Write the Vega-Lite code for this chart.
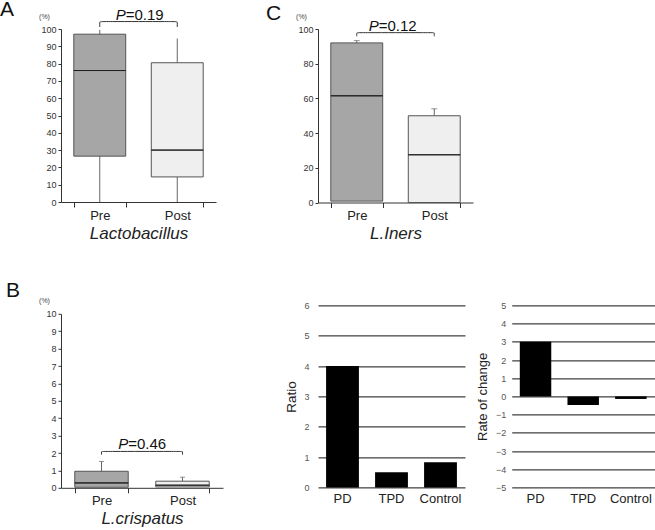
{
  "$schema": "https://vega.github.io/schema/vega-lite/v6.json",
  "padding": {"left": 0, "top": -2, "right": 0, "bottom": 0},
  "background": "white",
  "config": {"font": "Liberation Sans", "view": {"stroke": null}},
  "datasets": {
    "A": [{"g": "Pre", "lo": 0, "q1": 26.5, "med": 76, "q3": 97, "hi": 99.5}, {"g": "Post", "lo": 0, "q1": 14.5, "med": 30, "q3": 80.5, "hi": 94.5}],
    "A_br": [{"g": "Pre", "y": 101.2, "o": 1}, {"g": "Pre", "y": 104.3, "o": 2}, {"g": "Pre", "y": 104.3, "o": 3}, {"g": "Post", "y": 104.3, "o": 4}, {"g": "Post", "y": 104.3, "o": 5}, {"g": "Post", "y": 101.2, "o": 6}],
    "A_p": [{"g": "Pre", "y": 105.4, "p": "P", "r": "=0.19"}],
    "C": [{"g": "Pre", "q1": 0.8, "med": 61.5, "q3": 92, "hi": 93.3}, {"g": "Post", "q1": 0, "med": 27.5, "q3": 50, "hi": 54}],
    "C_br": [{"g": "Pre", "y": 95.8, "o": 1}, {"g": "Pre", "y": 97.9, "o": 2}, {"g": "Pre", "y": 97.9, "o": 3}, {"g": "Post", "y": 97.9, "o": 4}, {"g": "Post", "y": 97.9, "o": 5}, {"g": "Post", "y": 95.8, "o": 6}],
    "C_p": [{"g": "Pre", "y": 98.6, "p": "P", "r": "=0.12"}],
    "B": [{"g": "Pre", "q1": 0.03, "med": 0.28, "q3": 0.95, "hi": 1.51}, {"g": "Post", "q1": 0.05, "med": 0.15, "q3": 0.38, "hi": 0.61}],
    "B_br": [{"g": "Pre", "y": 1.9, "o": 1}, {"g": "Pre", "y": 2.09, "o": 2}, {"g": "Pre", "y": 2.09, "o": 3}, {"g": "Post", "y": 2.09, "o": 4}, {"g": "Post", "y": 2.09, "o": 5}, {"g": "Post", "y": 1.9, "o": 6}],
    "B_p": [{"g": "Pre", "y": 2.25, "p": "P", "r": "=0.46"}],
    "R": [{"g": "PD", "v": 4.0}, {"g": "TPD", "v": 0.5}, {"g": "Control", "v": 0.83}],
    "RC": [{"g": "PD", "v": 3.0}, {"g": "TPD", "v": -0.47}, {"g": "Control", "v": -0.14}]
  },
  "spacing": 43,
  "hconcat": [
    {
      "vconcat": [
        {
          "width": 155, "height": 173,
          "title": {"text": "A", "anchor": "start", "frame": "group", "dx": -61, "fontSize": 21, "fontWeight": "normal", "color": "#111", "offset": -12.2},
          "layer": [
            {"data": {"name": "A"}, "mark": {"type": "rule", "color": "#666"},
             "encoding": {
               "x": {"field": "g", "type": "nominal", "sort": ["Pre", "Post"], "scale": {"domain": ["Pre", "Post"], "paddingInner": 0.33, "paddingOuter": 0.165},
                     "axis": {"tickBand": "extent", "labelAngle": 0, "labelFontSize": 13, "labelColor": "#222", "tickSize": 5, "labelPadding": 2, "domainColor": "#333", "tickColor": "#333", "title": "Lactobacillus", "titleFontStyle": "italic", "titleFontWeight": "normal", "titleFontSize": 17, "titleColor": "#222", "titlePadding": 3}},
               "y": {"field": "lo", "type": "quantitative", "scale": {"domain": [0, 100]},
                     "axis": {"values": [0, 10, 20, 30, 40, 50, 60, 70, 80, 90, 100], "labelOverlap": false, "grid": false, "labelFontSize": 9, "labelColor": "#333", "tickSize": 3, "labelPadding": 2, "domainColor": "#333", "tickColor": "#333", "title": "(%)", "titleAngle": 0, "titleFontSize": 7, "titleFontWeight": "normal", "titleColor": "#444", "titleX": -17, "titleY": -13, "titleAlign": "center", "titleBaseline": "middle"}},
               "y2": {"field": "hi"}}},
            {"data": {"name": "A"}, "mark": {"type": "bar", "stroke": "#555", "strokeWidth": 1},
             "encoding": {"x": {"field": "g", "type": "nominal", "sort": ["Pre", "Post"]},
               "y": {"field": "q1", "type": "quantitative", "axis": {"values": [0, 10, 20, 30, 40, 50, 60, 70, 80, 90, 100], "labelOverlap": false, "grid": false, "labelFontSize": 9, "labelColor": "#333", "tickSize": 3, "labelPadding": 2, "domainColor": "#333", "tickColor": "#333", "title": "(%)", "titleAngle": 0, "titleFontSize": 7, "titleFontWeight": "normal", "titleColor": "#444", "titleX": -17, "titleY": -13, "titleAlign": "center", "titleBaseline": "middle"}},
               "y2": {"field": "q3"},
               "fill": {"field": "g", "type": "nominal", "scale": {"domain": ["Pre", "Post"], "range": ["#a6a6a6", "#efefef"]}, "legend": null}}},
            {"data": {"name": "A"}, "mark": {"type": "bar", "fillOpacity": 0, "stroke": "#222", "strokeWidth": 1},
             "encoding": {"x": {"field": "g", "type": "nominal", "sort": ["Pre", "Post"]},
               "y": {"field": "med", "type": "quantitative", "axis": {"values": [0, 10, 20, 30, 40, 50, 60, 70, 80, 90, 100], "labelOverlap": false, "grid": false, "labelFontSize": 9, "labelColor": "#333", "tickSize": 3, "labelPadding": 2, "domainColor": "#333", "tickColor": "#333", "title": "(%)", "titleAngle": 0, "titleFontSize": 7, "titleFontWeight": "normal", "titleColor": "#444", "titleX": -17, "titleY": -13, "titleAlign": "center", "titleBaseline": "middle"}},
               "y2": {"field": "med"}}},
            {"data": {"name": "A_br"}, "mark": {"type": "line", "color": "#333", "strokeWidth": 1, "interpolate": "basis", "clip": false},
             "encoding": {"x": {"field": "g", "type": "nominal", "sort": ["Pre", "Post"]},
               "y": {"field": "y", "type": "quantitative", "axis": {"values": [0, 10, 20, 30, 40, 50, 60, 70, 80, 90, 100], "labelOverlap": false, "grid": false, "labelFontSize": 9, "labelColor": "#333", "tickSize": 3, "labelPadding": 2, "domainColor": "#333", "tickColor": "#333", "title": "(%)", "titleAngle": 0, "titleFontSize": 7, "titleFontWeight": "normal", "titleColor": "#444", "titleX": -17, "titleY": -13, "titleAlign": "center", "titleBaseline": "middle"}},
               "order": {"field": "o"}}},
            {"data": {"name": "A_p"}, "mark": {"type": "text", "align": "right", "baseline": "alphabetic", "fontSize": 15, "fontStyle": "italic", "color": "#111", "clip": false},
             "encoding": {"x": {"field": "g", "type": "nominal", "bandPosition": 1},
               "y": {"field": "y", "type": "quantitative", "axis": {"values": [0, 10, 20, 30, 40, 50, 60, 70, 80, 90, 100], "labelOverlap": false, "grid": false, "labelFontSize": 9, "labelColor": "#333", "tickSize": 3, "labelPadding": 2, "domainColor": "#333", "tickColor": "#333", "title": "(%)", "titleAngle": 0, "titleFontSize": 7, "titleFontWeight": "normal", "titleColor": "#444", "titleX": -17, "titleY": -13, "titleAlign": "center", "titleBaseline": "middle"}},
               "text": {"field": "p"}}},
            {"data": {"name": "A_p"}, "mark": {"type": "text", "align": "left", "baseline": "alphabetic", "fontSize": 15, "color": "#111", "clip": false},
             "encoding": {"x": {"field": "g", "type": "nominal", "bandPosition": 1},
               "y": {"field": "y", "type": "quantitative", "axis": {"values": [0, 10, 20, 30, 40, 50, 60, 70, 80, 90, 100], "labelOverlap": false, "grid": false, "labelFontSize": 9, "labelColor": "#333", "tickSize": 3, "labelPadding": 2, "domainColor": "#333", "tickColor": "#333", "title": "(%)", "titleAngle": 0, "titleFontSize": 7, "titleFontWeight": "normal", "titleColor": "#444", "titleX": -17, "titleY": -13, "titleAlign": "center", "titleBaseline": "middle"}},
               "text": {"field": "r"}}}
          ]
        },
        {
          "width": 162, "height": 174,
          "title": {"text": "B", "anchor": "start", "frame": "group", "dx": -55, "fontSize": 21, "fontWeight": "normal", "color": "#111", "offset": -4.2},
          "layer": [
            {"data": {"name": "B"}, "mark": {"type": "rule", "color": "#666"},
             "encoding": {
               "x": {"field": "g", "type": "nominal", "sort": ["Pre", "Post"], "scale": {"domain": ["Pre", "Post"], "paddingInner": 0.34, "paddingOuter": 0.17},
                     "axis": {"tickBand": "extent", "labelAngle": 0, "labelFontSize": 13, "labelColor": "#222", "tickSize": 5, "labelPadding": 2, "domainColor": "#333", "tickColor": "#333", "title": "L.crispatus", "titleFontStyle": "italic", "titleFontWeight": "normal", "titleFontSize": 17, "titleColor": "#222", "titlePadding": 3}},
               "y": {"field": "q3", "type": "quantitative", "scale": {"domain": [0, 10]},
                     "axis": {"values": [0, 1, 2, 3, 4, 5, 6, 7, 8, 9, 10], "labelOverlap": false, "grid": false, "labelFontSize": 9, "labelColor": "#333", "tickSize": 3, "labelPadding": 2, "domainColor": "#333", "tickColor": "#333", "title": "(%)", "titleAngle": 0, "titleFontSize": 7, "titleFontWeight": "normal", "titleColor": "#444", "titleX": -17, "titleY": -13, "titleAlign": "center", "titleBaseline": "middle"}},
               "y2": {"field": "hi"}}},
            {"data": {"name": "B"}, "mark": {"type": "tick", "orient": "horizontal", "color": "#666", "size": 5, "thickness": 1},
             "encoding": {"x": {"field": "g", "type": "nominal", "sort": ["Pre", "Post"]},
               "y": {"field": "hi", "type": "quantitative", "axis": {"values": [0, 1, 2, 3, 4, 5, 6, 7, 8, 9, 10], "labelOverlap": false, "grid": false, "labelFontSize": 9, "labelColor": "#333", "tickSize": 3, "labelPadding": 2, "domainColor": "#333", "tickColor": "#333", "title": "(%)", "titleAngle": 0, "titleFontSize": 7, "titleFontWeight": "normal", "titleColor": "#444", "titleX": -17, "titleY": -13, "titleAlign": "center", "titleBaseline": "middle"}}}},
            {"data": {"name": "B"}, "mark": {"type": "bar", "stroke": "#555", "strokeWidth": 1},
             "encoding": {"x": {"field": "g", "type": "nominal", "sort": ["Pre", "Post"]},
               "y": {"field": "q1", "type": "quantitative", "axis": {"values": [0, 1, 2, 3, 4, 5, 6, 7, 8, 9, 10], "labelOverlap": false, "grid": false, "labelFontSize": 9, "labelColor": "#333", "tickSize": 3, "labelPadding": 2, "domainColor": "#333", "tickColor": "#333", "title": "(%)", "titleAngle": 0, "titleFontSize": 7, "titleFontWeight": "normal", "titleColor": "#444", "titleX": -17, "titleY": -13, "titleAlign": "center", "titleBaseline": "middle"}},
               "y2": {"field": "q3"},
               "fill": {"field": "g", "type": "nominal", "scale": {"domain": ["Pre", "Post"], "range": ["#a6a6a6", "#efefef"]}, "legend": null}}},
            {"data": {"name": "B"}, "mark": {"type": "bar", "fillOpacity": 0, "stroke": "#222", "strokeWidth": 1},
             "encoding": {"x": {"field": "g", "type": "nominal", "sort": ["Pre", "Post"]},
               "y": {"field": "med", "type": "quantitative", "axis": {"values": [0, 1, 2, 3, 4, 5, 6, 7, 8, 9, 10], "labelOverlap": false, "grid": false, "labelFontSize": 9, "labelColor": "#333", "tickSize": 3, "labelPadding": 2, "domainColor": "#333", "tickColor": "#333", "title": "(%)", "titleAngle": 0, "titleFontSize": 7, "titleFontWeight": "normal", "titleColor": "#444", "titleX": -17, "titleY": -13, "titleAlign": "center", "titleBaseline": "middle"}},
               "y2": {"field": "med"}}},
            {"data": {"name": "B_br"}, "mark": {"type": "line", "color": "#333", "strokeWidth": 1, "interpolate": "basis", "clip": false},
             "encoding": {"x": {"field": "g", "type": "nominal", "sort": ["Pre", "Post"]},
               "y": {"field": "y", "type": "quantitative", "axis": {"values": [0, 1, 2, 3, 4, 5, 6, 7, 8, 9, 10], "labelOverlap": false, "grid": false, "labelFontSize": 9, "labelColor": "#333", "tickSize": 3, "labelPadding": 2, "domainColor": "#333", "tickColor": "#333", "title": "(%)", "titleAngle": 0, "titleFontSize": 7, "titleFontWeight": "normal", "titleColor": "#444", "titleX": -17, "titleY": -13, "titleAlign": "center", "titleBaseline": "middle"}},
               "order": {"field": "o"}}},
            {"data": {"name": "B_p"}, "mark": {"type": "text", "align": "right", "baseline": "alphabetic", "fontSize": 15, "fontStyle": "italic", "color": "#111"},
             "encoding": {"x": {"field": "g", "type": "nominal", "bandPosition": 1},
               "y": {"field": "y", "type": "quantitative", "axis": {"values": [0, 1, 2, 3, 4, 5, 6, 7, 8, 9, 10], "labelOverlap": false, "grid": false, "labelFontSize": 9, "labelColor": "#333", "tickSize": 3, "labelPadding": 2, "domainColor": "#333", "tickColor": "#333", "title": "(%)", "titleAngle": 0, "titleFontSize": 7, "titleFontWeight": "normal", "titleColor": "#444", "titleX": -17, "titleY": -13, "titleAlign": "center", "titleBaseline": "middle"}},
               "text": {"field": "p"}}},
            {"data": {"name": "B_p"}, "mark": {"type": "text", "align": "left", "baseline": "alphabetic", "fontSize": 15, "color": "#111"},
             "encoding": {"x": {"field": "g", "type": "nominal", "bandPosition": 1},
               "y": {"field": "y", "type": "quantitative", "axis": {"values": [0, 1, 2, 3, 4, 5, 6, 7, 8, 9, 10], "labelOverlap": false, "grid": false, "labelFontSize": 9, "labelColor": "#333", "tickSize": 3, "labelPadding": 2, "domainColor": "#333", "tickColor": "#333", "title": "(%)", "titleAngle": 0, "titleFontSize": 7, "titleFontWeight": "normal", "titleColor": "#444", "titleX": -17, "titleY": -13, "titleAlign": "center", "titleBaseline": "middle"}},
               "text": {"field": "r"}}}
          ]
        }
      ],
      "spacing": 38.8
    },
    {
      "vconcat": [
        {
          "width": 155, "height": 173.5,
          "title": {"text": "C", "anchor": "start", "frame": "group", "dx": -52, "fontSize": 21, "fontWeight": "normal", "color": "#111", "offset": -12.2},
          "layer": [
            {"data": {"name": "C"}, "mark": {"type": "rule", "color": "#666"},
             "encoding": {
               "x": {"field": "g", "type": "nominal", "sort": ["Pre", "Post"], "scale": {"domain": ["Pre", "Post"], "paddingInner": 0.33, "paddingOuter": 0.165},
                     "axis": {"tickBand": "extent", "labelAngle": 0, "labelFontSize": 13, "labelColor": "#222", "tickSize": 5, "labelPadding": 2, "domainColor": "#333", "tickColor": "#333", "title": "L.Iners", "titleFontStyle": "italic", "titleFontWeight": "normal", "titleFontSize": 17, "titleColor": "#222", "titlePadding": 3}},
               "y": {"field": "q3", "type": "quantitative", "scale": {"domain": [0, 100]},
                     "axis": {"values": [0, 20, 40, 60, 80, 100], "labelOverlap": false, "grid": false, "labelFontSize": 9, "labelColor": "#333", "tickSize": 3, "labelPadding": 2, "domainColor": "#333", "tickColor": "#333", "title": "(%)", "titleAngle": 0, "titleFontSize": 7, "titleFontWeight": "normal", "titleColor": "#444", "titleX": -17, "titleY": -13, "titleAlign": "center", "titleBaseline": "middle"}},
               "y2": {"field": "hi"}}},
            {"data": {"name": "C"}, "mark": {"type": "tick", "orient": "horizontal", "color": "#666", "size": 6, "thickness": 1},
             "encoding": {"x": {"field": "g", "type": "nominal", "sort": ["Pre", "Post"]},
               "y": {"field": "hi", "type": "quantitative", "axis": {"values": [0, 20, 40, 60, 80, 100], "labelOverlap": false, "grid": false, "labelFontSize": 9, "labelColor": "#333", "tickSize": 3, "labelPadding": 2, "domainColor": "#333", "tickColor": "#333", "title": "(%)", "titleAngle": 0, "titleFontSize": 7, "titleFontWeight": "normal", "titleColor": "#444", "titleX": -17, "titleY": -13, "titleAlign": "center", "titleBaseline": "middle"}}}},
            {"data": {"name": "C"}, "mark": {"type": "bar", "stroke": "#555", "strokeWidth": 1},
             "encoding": {"x": {"field": "g", "type": "nominal", "sort": ["Pre", "Post"]},
               "y": {"field": "q1", "type": "quantitative", "axis": {"values": [0, 20, 40, 60, 80, 100], "labelOverlap": false, "grid": false, "labelFontSize": 9, "labelColor": "#333", "tickSize": 3, "labelPadding": 2, "domainColor": "#333", "tickColor": "#333", "title": "(%)", "titleAngle": 0, "titleFontSize": 7, "titleFontWeight": "normal", "titleColor": "#444", "titleX": -17, "titleY": -13, "titleAlign": "center", "titleBaseline": "middle"}},
               "y2": {"field": "q3"},
               "fill": {"field": "g", "type": "nominal", "scale": {"domain": ["Pre", "Post"], "range": ["#a6a6a6", "#efefef"]}, "legend": null}}},
            {"data": {"name": "C"}, "mark": {"type": "bar", "fillOpacity": 0, "stroke": "#222", "strokeWidth": 1},
             "encoding": {"x": {"field": "g", "type": "nominal", "sort": ["Pre", "Post"]},
               "y": {"field": "med", "type": "quantitative", "axis": {"values": [0, 20, 40, 60, 80, 100], "labelOverlap": false, "grid": false, "labelFontSize": 9, "labelColor": "#333", "tickSize": 3, "labelPadding": 2, "domainColor": "#333", "tickColor": "#333", "title": "(%)", "titleAngle": 0, "titleFontSize": 7, "titleFontWeight": "normal", "titleColor": "#444", "titleX": -17, "titleY": -13, "titleAlign": "center", "titleBaseline": "middle"}},
               "y2": {"field": "med"}}},
            {"data": {"name": "C_br"}, "mark": {"type": "line", "color": "#333", "strokeWidth": 1, "interpolate": "basis", "clip": false},
             "encoding": {"x": {"field": "g", "type": "nominal", "sort": ["Pre", "Post"]},
               "y": {"field": "y", "type": "quantitative", "axis": {"values": [0, 20, 40, 60, 80, 100], "labelOverlap": false, "grid": false, "labelFontSize": 9, "labelColor": "#333", "tickSize": 3, "labelPadding": 2, "domainColor": "#333", "tickColor": "#333", "title": "(%)", "titleAngle": 0, "titleFontSize": 7, "titleFontWeight": "normal", "titleColor": "#444", "titleX": -17, "titleY": -13, "titleAlign": "center", "titleBaseline": "middle"}},
               "order": {"field": "o"}}},
            {"data": {"name": "C_p"}, "mark": {"type": "text", "align": "right", "baseline": "alphabetic", "fontSize": 15, "fontStyle": "italic", "color": "#111", "dx": -4, "clip": false},
             "encoding": {"x": {"field": "g", "type": "nominal", "bandPosition": 1},
               "y": {"field": "y", "type": "quantitative", "axis": {"values": [0, 20, 40, 60, 80, 100], "labelOverlap": false, "grid": false, "labelFontSize": 9, "labelColor": "#333", "tickSize": 3, "labelPadding": 2, "domainColor": "#333", "tickColor": "#333", "title": "(%)", "titleAngle": 0, "titleFontSize": 7, "titleFontWeight": "normal", "titleColor": "#444", "titleX": -17, "titleY": -13, "titleAlign": "center", "titleBaseline": "middle"}},
               "text": {"field": "p"}}},
            {"data": {"name": "C_p"}, "mark": {"type": "text", "align": "left", "baseline": "alphabetic", "fontSize": 15, "color": "#111", "dx": -4, "clip": false},
             "encoding": {"x": {"field": "g", "type": "nominal", "bandPosition": 1},
               "y": {"field": "y", "type": "quantitative", "axis": {"values": [0, 20, 40, 60, 80, 100], "labelOverlap": false, "grid": false, "labelFontSize": 9, "labelColor": "#333", "tickSize": 3, "labelPadding": 2, "domainColor": "#333", "tickColor": "#333", "title": "(%)", "titleAngle": 0, "titleFontSize": 7, "titleFontWeight": "normal", "titleColor": "#444", "titleX": -17, "titleY": -13, "titleAlign": "center", "titleBaseline": "middle"}},
               "text": {"field": "r"}}}
          ]
        },
        {
          "hconcat": [
            {
              "width": 147, "height": 182,
              "data": {"name": "R"},
              "mark": {"type": "bar", "color": "#000"},
              "encoding": {
                "x": {"field": "g", "type": "nominal", "sort": ["PD", "TPD", "Control"], "scale": {"paddingInner": 0.33, "paddingOuter": 0.165},
                      "axis": {"title": null, "labelAngle": 0, "labelFontSize": 13, "labelColor": "#222", "domain": false, "ticks": false, "labelPadding": 5}},
                "y": {"field": "v", "type": "quantitative", "scale": {"domain": [0, 6]},
                      "axis": {"values": [0, 1, 2, 3, 4, 5, 6], "labelOverlap": false, "grid": true, "gridColor": "#111", "gridOpacity": 1, "domain": false, "ticks": false, "labelFontSize": 9, "labelColor": "#555", "labelPadding": 9, "title": "Ratio", "titleFontSize": 13.5, "titleFontWeight": "normal", "titleColor": "#222", "titlePadding": 5}}
              }
            },
            {
              "width": 143, "height": 182,
              "data": {"name": "RC"},
              "mark": {"type": "bar", "color": "#000"},
              "encoding": {
                "x": {"field": "g", "type": "nominal", "sort": ["PD", "TPD", "Control"], "scale": {"paddingInner": 0.34, "paddingOuter": 0.17},
                      "axis": {"title": null, "labelAngle": 0, "labelFontSize": 13, "labelColor": "#222", "domain": false, "ticks": false, "labelPadding": 5}},
                "y": {"field": "v", "type": "quantitative", "scale": {"domain": [-5, 5]},
                      "axis": {"values": [-5, -4, -3, -2, -1, 0, 1, 2, 3, 4, 5], "labelOverlap": false, "grid": true, "gridColor": "#111", "gridOpacity": 1, "domain": false, "ticks": false, "labelFontSize": 9, "labelColor": "#555", "labelPadding": 6, "title": "Rate of change", "titleFontSize": 13, "titleFontWeight": "normal", "titleColor": "#222", "titlePadding": 6}}
              }
            }
          ],
          "spacing": 46.7,
          "bounds": "flush"
        }
      ],
      "spacing": 102.4,
      "bounds": "flush"
    }
  ]
}
